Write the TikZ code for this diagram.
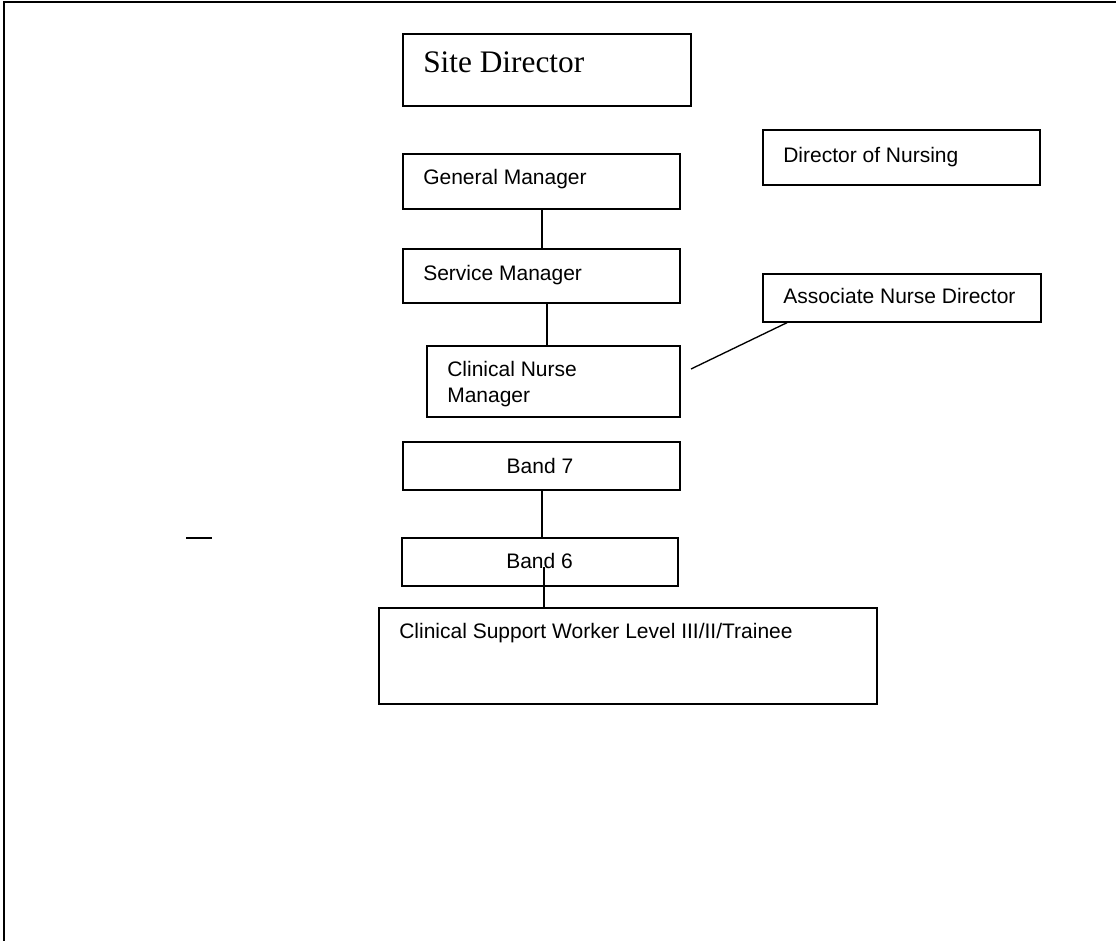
\documentclass[tikz,border=0pt]{standalone}
\usepackage{fontspec}
\setmainfont{Liberation Sans}
\newfontfamily\serifface{Liberation Serif}
\usetikzlibrary{fit}
\begin{document}
\begin{tikzpicture}[x=0.75pt,y=-0.75pt,
  box/.style={draw,line width=1pt,inner sep=0pt,rectangle},
  lbl/.style={inner sep=0pt,anchor=base west,font=\fontsize{15.75pt}{19.5pt}\selectfont},
  conn/.style={line width=1pt}]
\useasboundingbox (0,0) rectangle (1116,941);
% page frame
\coordinate (ftop) at (1116,2);
\coordinate (fcorner) at (4,2);
\coordinate (fbot) at (4,941);
\draw[line width=1.5pt] (ftop) -- (fcorner) -- (fbot);
% boxes
\node[box,fit={(403,34) (691,106)}] (sd) {};
\node[box,fit={(403,154) (680,209)}] (gm) {};
\node[box,fit={(403,249) (680,303)}] (sm) {};
\node[box,fit={(427,346) (680,417)}] (cnm) {};
\node[box,fit={(403,442) (680,490)}] (b7) {};
\node[box,fit={(402,538) (678,586)}] (b6) {};
\node[box,fit={(379,608) (877,704)}] (csw) {};
\node[box,fit={(763,130) (1040,185)}] (don) {};
\node[box,fit={(763,274) (1041,322)}] (and) {};
% texts
\node[inner sep=0pt,anchor=base west,font=\serifface\fontsize{23.5pt}{28pt}\selectfont] (sdt) at (423,73) {Site Director};
\node[lbl] (gmt) at (423,185) {General Manager};
\node[lbl] (smt) at (423,280) {Service Manager};
\node[lbl] (cnmt1) at (447,376) {Clinical Nurse};
\node[lbl] (cnmt2) at (447,402) {Manager};
\node[lbl,anchor=base] (b7t) at (540,473) {Band 7};
\node[lbl] (b6t) at (506,568) {Band 6};
\node[lbl] (cswt) at (399,638) {Clinical Support Worker Level III/II/Trainee};
\node[lbl] (dont) at (783,163) {Director of Nursing};
\node[lbl] (andt) at (783,303) {Associate Nurse Director};
% connectors
\coordinate (xgm) at (542,0);
\coordinate (xsm) at (547,0);
\coordinate (xb7) at (542,0);
\coordinate (xb6) at (544,567);
\coordinate (xand) at (787,0);
\coordinate (cnmlink) at (691,369);
\coordinate (dashA) at (186,538);
\coordinate (dashB) at (212,538);
\draw[conn] (gm.south -| xgm) -- (sm.north -| xgm);
\draw[conn] (sm.south -| xsm) -- (cnm.north -| xsm);
\draw[conn] (b7.south -| xb7) -- (b6.north -| xb7);
\draw[conn] (xb6) -- (csw.north -| xb6);
\draw[conn] (cnmlink) -- (and.south -| xand);
\draw[conn] (dashA) -- (dashB);
\end{tikzpicture}
\end{document}
